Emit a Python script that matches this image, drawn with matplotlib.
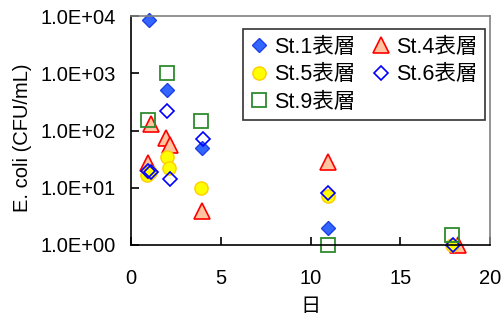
import matplotlib
matplotlib.use("Agg")
import matplotlib.pyplot as plt
from matplotlib.ticker import FixedLocator, FuncFormatter

plt.rcParams['font.family'] = ['Liberation Sans', 'Noto Sans CJK JP', 'DejaVu Sans']

# sampling day and E. coli count per station (surface layer)
st1_day = [1.0, 2.0, 3.95, 11.0]
st1_val = [8500, 520, 50, 2.0]

st4_day = [0.95, 1.1, 1.95, 2.15, 3.95, 11.0, 18.2]
st4_val = [27, 130, 75, 55, 4.0, 28, 1.0]

st5_day = [0.9, 1.05, 2.0, 2.1, 3.9, 10.95, 17.9]
st5_val = [17, 19, 35, 22, 10, 7.2, 1.0]

st6_day = [0.95, 1.1, 2.0, 2.2, 4.0, 11.0, 17.95]
st6_val = [20, 19, 215, 14.5, 72, 8.0, 1.0]

st9_day = [0.95, 2.0, 3.9, 10.95, 17.9]
st9_val = [150, 1000, 145, 1.0, 1.5]

labels = ["St.1表層", "St.4表層", "St.5表層", "St.6表層", "St.9表層"]

fig = plt.figure(figsize=(5.04, 3.22), dpi=100)
ax = fig.add_axes([131 / 504, 77 / 322, 359 / 504, 229 / 322])

kw = dict(linestyle="none", clip_on=False)
h1, = ax.plot(st1_day, st1_val, marker="D", ms=7.6, mfc="#3366ff", mec="#1f3fe6", mew=1.0, label=labels[0], **kw)
h4, = ax.plot(st4_day, st4_val, marker="^", ms=11, mfc="#ffc4a0", mec="#ff0000", mew=1.2, label=labels[1], **kw)
h5, = ax.plot(st5_day, st5_val, marker="o", ms=9.5, mfc="#ffff00", mec="#ffcc00", mew=1.0, label=labels[2], **kw)
h6, = ax.plot(st6_day, st6_val, marker="D", ms=7.6, mfc="none", mec="#0000ff", mew=1.2, label=labels[3], **kw)
h9, = ax.plot(st9_day, st9_val, marker="s", ms=9.5, mfc="none", mec="#2e8b2e", mew=1.3, label=labels[4], **kw)

ax.set_yscale("log")
ax.set_ylim(1, 1e4)
ax.set_xlim(0, 20)
ax.set_xticks([0, 5, 10, 15, 20])
ax.yaxis.set_major_locator(FixedLocator([1, 10, 100, 1000, 10000]))
ax.yaxis.set_minor_locator(FixedLocator([]))
ax.yaxis.set_major_formatter(FuncFormatter(lambda v, p: "%.1E" % v))

ax.tick_params(direction="in", length=6, width=1.2, labelsize=14.5)
ax.tick_params(axis="x", pad=17)
ax.tick_params(axis="y", pad=11)

for s in ["left", "bottom"]:
    ax.spines[s].set_color("black")
    ax.spines[s].set_linewidth(1.2)
for s in ["top", "right"]:
    ax.spines[s].set_color("#808080")
    ax.spines[s].set_linewidth(1.2)

ax.set_ylabel("E. coli (CFU/mL)", fontsize=14.5)
ax.yaxis.set_label_coords(-0.275, 0.47)
ax.set_xlabel("日", fontsize=14.5, labelpad=7)

# column-wise fill: St.1 / St.5 / St.9 left, St.4 / St.6 right
leg = ax.legend([h1, h5, h9, h4, h6],
                [labels[0], labels[2], labels[4], labels[1], labels[3]],
                ncol=2, loc="upper left", bbox_to_anchor=(0.312, 0.943),
                fontsize=15.5, frameon=True, fancybox=False, framealpha=1,
                edgecolor="#333333", handlelength=0.8, handletextpad=0.3,
                columnspacing=0.8, labelspacing=0.3, borderpad=0.35,
                borderaxespad=0)
leg.get_frame().set_linewidth(1.2)

fig.savefig("out.png", dpi=100)
